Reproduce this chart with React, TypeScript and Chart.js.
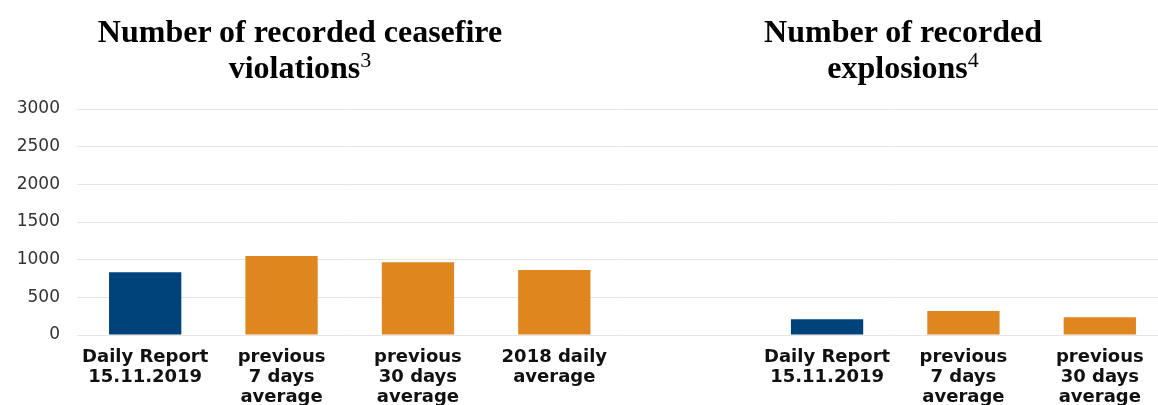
import React, { useEffect, useRef } from "react";
import { Chart, registerables } from "chart.js";

Chart.register(...registerables);

const categories: (string | string[])[] = [
  ["Daily Report", "15.11.2019"],
  ["previous", "7 days", "average"],
  ["previous", "30 days", "average"],
  ["2018 daily", "average"],
  "",
  ["Daily Report", "15.11.2019"],
  ["previous", "7 days", "average"],
  ["previous", "30 days", "average"],
];

const ceasefireValues = [832, 1049, 965, 862];
const explosionValues = [208, 318, 235];
const values: (number | null)[] = [...ceasefireValues, null, ...explosionValues];

const BLUE = "#00437a";
const ORANGE = "#e0861f";
const barColors = [BLUE, ORANGE, ORANGE, ORANGE, ORANGE, BLUE, ORANGE, ORANGE];

const yTicks = [0, 500, 1000, 1500, 2000, 2500, 3000];

export default function App() {
  const ref = useRef<HTMLCanvasElement | null>(null);

  useEffect(() => {
    if (!ref.current) return;
    const chart = new Chart(ref.current, {
      type: "bar",
      data: {
        labels: categories,
        datasets: [
          {
            data: values,
            backgroundColor: barColors,
            borderWidth: 0,
            categoryPercentage: 1,
            barPercentage: 0.53,
          },
        ],
      },
      options: {
        animation: false,
        responsive: false,
        devicePixelRatio: 1,
        layout: { padding: { top: 109, right: 2, bottom: 0, left: 0 } },
        plugins: {
          legend: { display: false },
          tooltip: { enabled: false },
          title: { display: false },
        },
        scales: {
          x: {
            grid: { display: false, drawTicks: false },
            border: { display: false },
            ticks: {
              autoSkip: false,
              maxRotation: 0,
              minRotation: 0,
              padding: 12,
              color: "#111111",
              font: { family: "DejaVu Sans", size: 18, weight: "bold", lineHeight: 1.12 },
            },
            afterFit: (s: any) => {
              s.height = 85;
            },
          },
          y: {
            min: yTicks[0],
            max: yTicks[yTicks.length - 1],
            afterBuildTicks: (s: any) => {
              s.ticks = yTicks.map((v) => ({ value: v }));
            },
            grid: { color: "#e6e6e6", lineWidth: 1, drawTicks: false },
            border: { display: false },
            ticks: {
              padding: 17,
              color: "#333333",
              font: { family: "DejaVu Sans", size: 17 },
              callback: (v: any) => String(v),
            },
            afterFit: (s: any) => {
              s.width = 77;
            },
          },
        },
      },
    });
    return () => chart.destroy();
  }, []);

  const titleStyle: React.CSSProperties = {
    position: "absolute",
    width: 520,
    textAlign: "center",
    fontFamily: "'Liberation Serif', serif",
    fontWeight: "bold",
    fontSize: 32,
    lineHeight: "36px",
    color: "#000",
    margin: 0,
  };
  const supStyle: React.CSSProperties = {
    position: "relative",
    top: -11,
    fontSize: 22,
    fontWeight: "normal",
  };

  return (
    <div
      style={{
        position: "absolute",
        left: 0,
        top: 0,
        width: 1158,
        height: 405,
        overflow: "hidden",
        background: "#fff",
      }}
    >
      <canvas
        ref={ref}
        width={1170}
        height={420}
        style={{ position: "absolute", left: 0, top: 0, width: 1170, height: 420 }}
      />
      <div style={{ ...titleStyle, left: 300 - 260, top: 13 }}>
        Number of recorded ceasefire
        <br />
        violations<span style={supStyle}>3</span>
      </div>
      <div style={{ ...titleStyle, left: 903 - 260, top: 13 }}>
        Number of recorded
        <br />
        explosions<span style={supStyle}>4</span>
      </div>
    </div>
  );
}
